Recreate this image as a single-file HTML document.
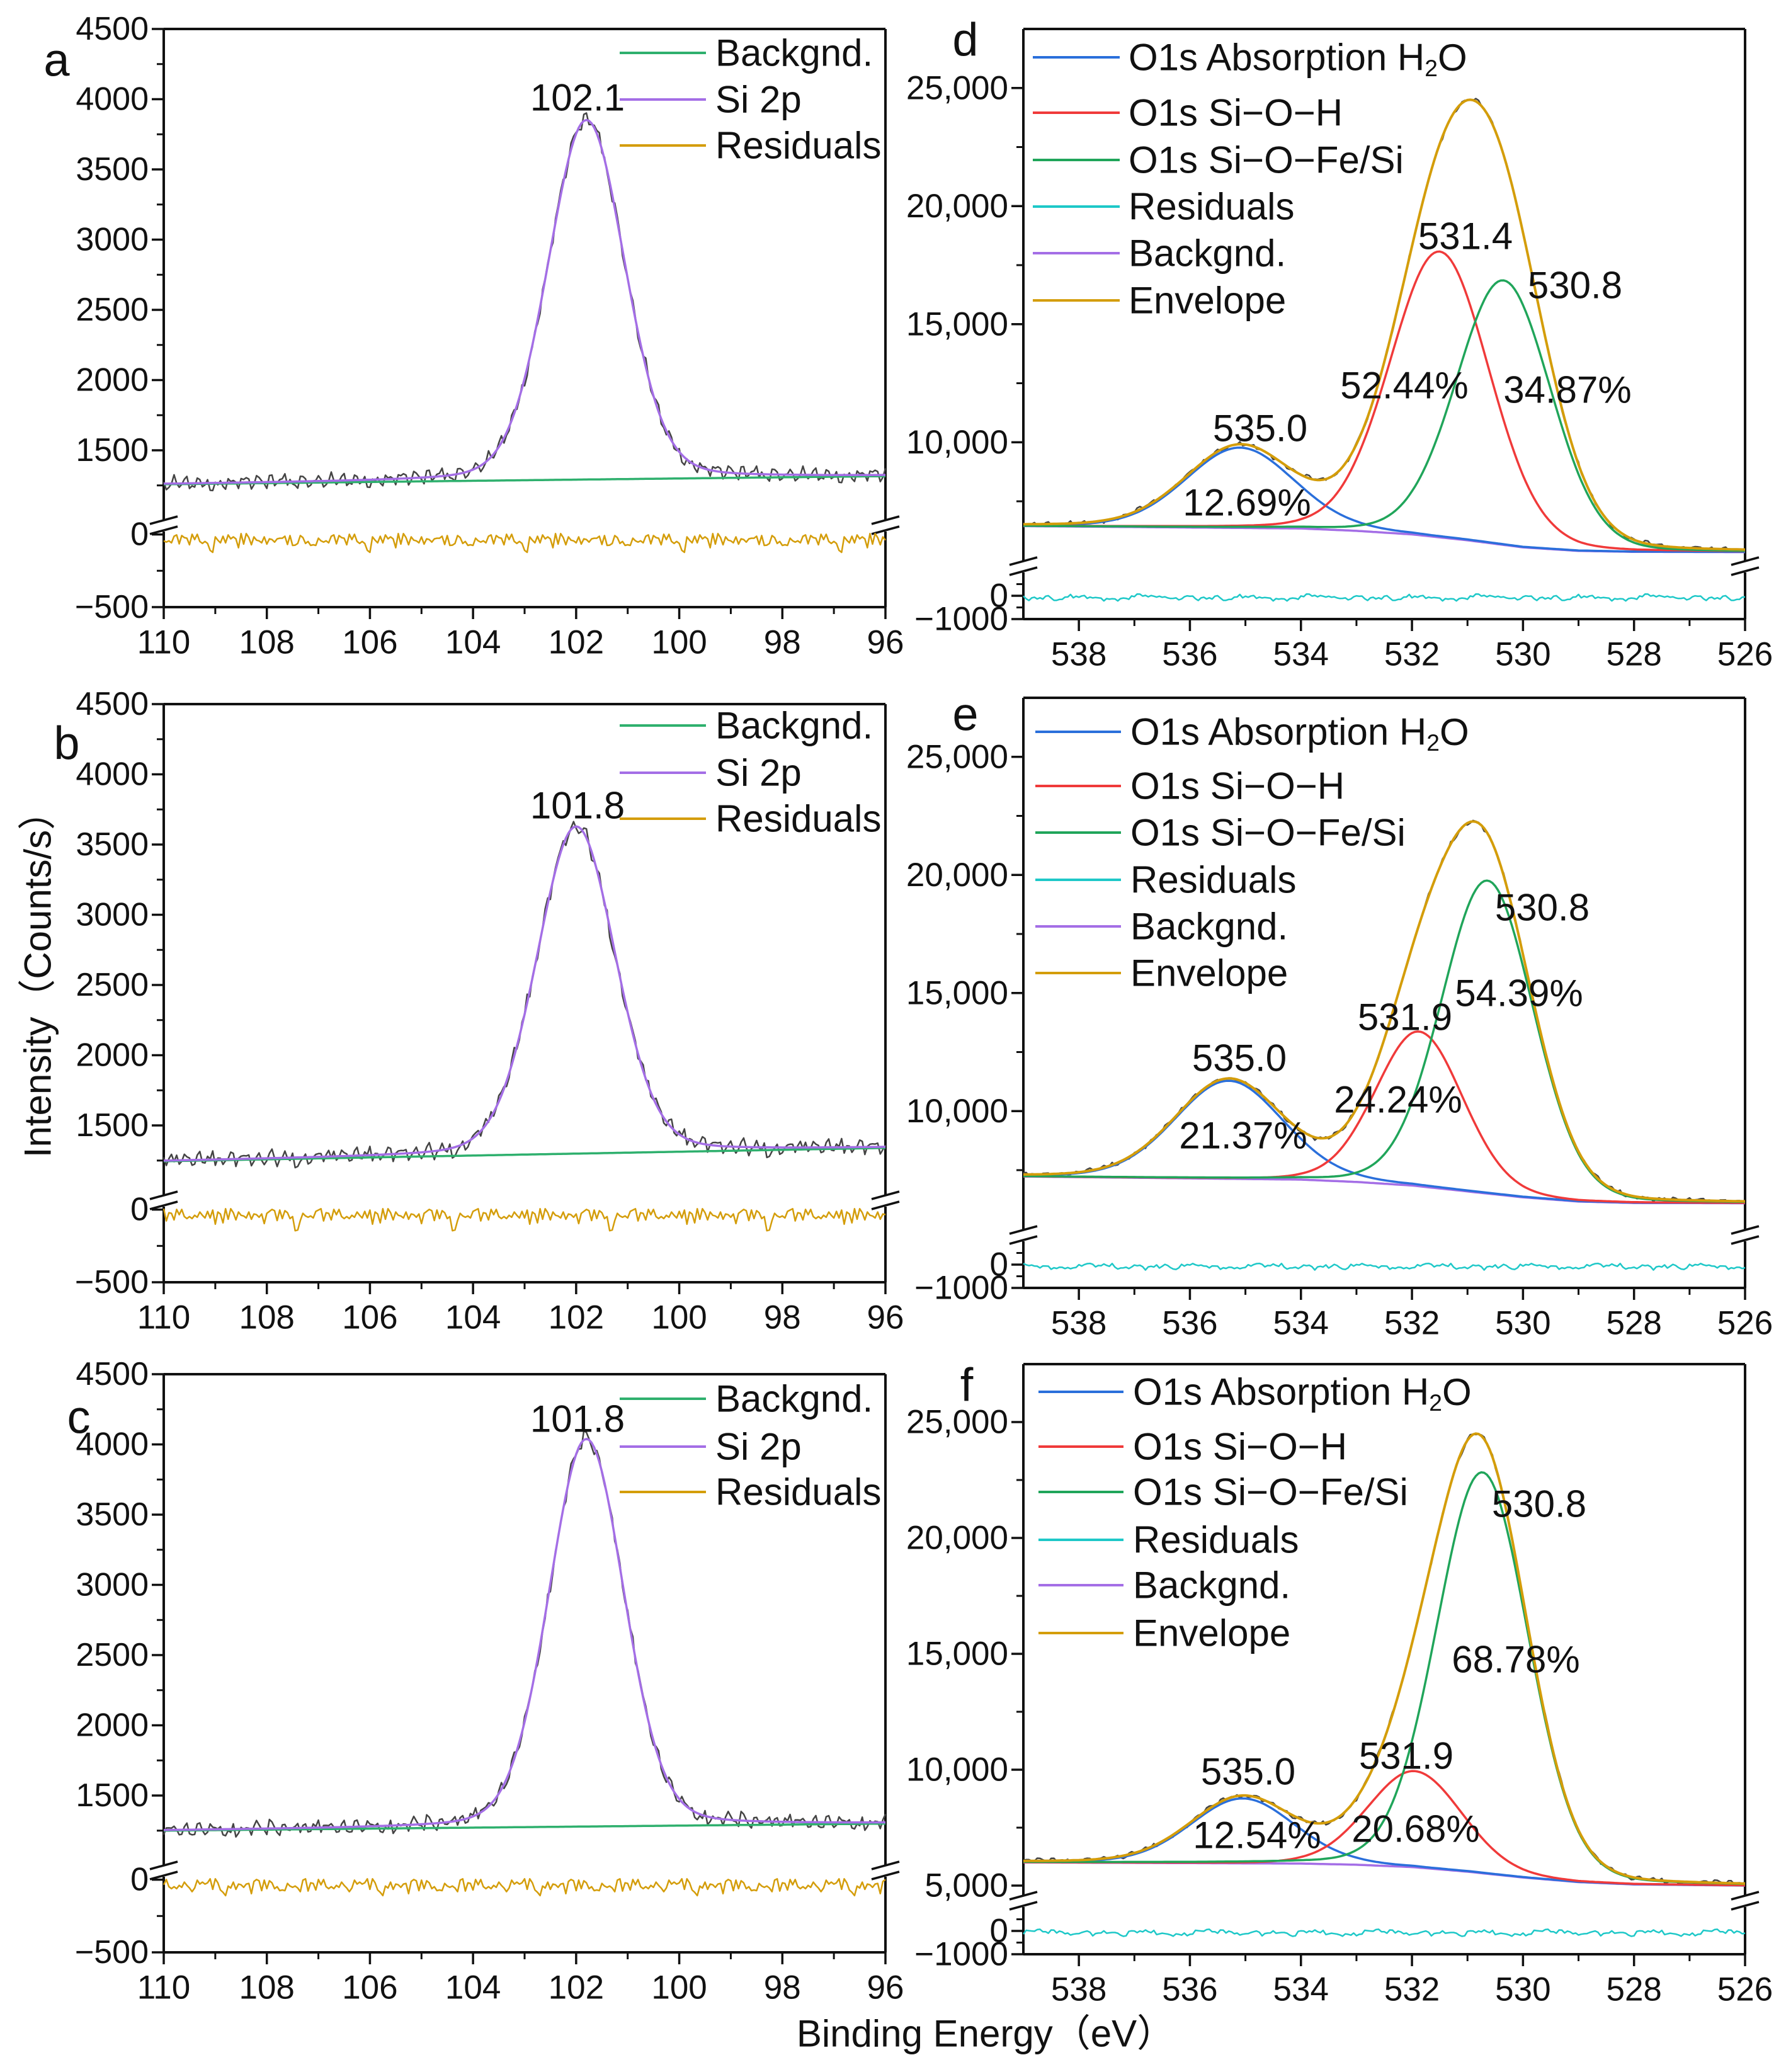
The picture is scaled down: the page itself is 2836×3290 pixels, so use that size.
<!DOCTYPE html>
<html><head><meta charset="utf-8"><style>
html,body{margin:0;padding:0;background:#fff;}
svg{display:block;font-family:"Liberation Sans","Noto Sans CJK SC",sans-serif;}
</style></head><body>
<svg id="fig" width="2836" height="3290" viewBox="0 0 2836 3290" xmlns="http://www.w3.org/2000/svg"></svg>
<script>
// ---------- DATA ----------
// typed noise offsets (unitless, reused for raw spectra and residuals)
const noise = [0.3,-0.5,0.8,-0.2,-0.9,0.4,0.1,-0.6,0.9,-0.3,0.2,-0.8,0.5,0.0,-0.4,0.7,-0.7,0.3,-0.1,0.6,-0.9,0.2,0.4,-0.5,0.8,-0.2,-0.6,0.1,0.9,-0.4,0.3,-0.8,0.5,-0.1,0.7,-0.3,-0.5,0.6,0.0,-0.7,0.4,0.2,-0.9,0.8,-0.2,0.1,-0.6,0.5,0.3,-0.4,0.9,-0.1,-0.8,0.2,0.6,-0.5,0.4,-0.3,0.7,-0.6,0.1];

// Si 2p panels (a,b,c)
const siBgE = [110, 96];
const siBgA = [1258, 1316];
const siBgB = [1245, 1340];
const siBgC = [1250, 1300];
const siCenter = [101.8, 102.0, 101.8];
const siHeight = [2560, 2330, 2760];
const siFwhm = [1.75, 1.8, 1.72];
const siMix = [0.15, 0.15, 0.15];
const siPeakLabels = ["102.1", "101.8", "101.8"];

// O 1s panels (d,e,f)
const oBgE = [539, 534, 533, 532, 531, 530, 529, 528, 526];
const oBgD = [6450, 6350, 6250, 6100, 5850, 5550, 5400, 5360, 5350];
const oBgEpanel = [7230, 7100, 7000, 6850, 6600, 6350, 6170, 6110, 6100];
const oBgF = [6000, 5950, 5900, 5800, 5600, 5350, 5150, 5050, 5000];
// components: [H2O, Si-O-H, Si-O-Fe/Si]
const oCenterD = [535.1, 531.5, 530.35];
const oHeightD = [3400, 12100, 11200];
const oFwhmD = [2.3, 2.1, 2.0];
const oCenterE = [535.3, 531.87, 530.64];
const oHeightE = [4150, 6550, 13250];
const oFwhmE = [2.3, 1.85, 1.95];
const oCenterF = [535.05, 531.95, 530.73];
const oHeightF = [2800, 4150, 17300];
const oFwhmF = [2.2, 2.0, 1.95];
const oMix = [0.15, 0.1, 0.1];

const siTicksMajor = [1500, 2000, 2500, 3000, 3500, 4000, 4500];
const siTicksLower = [0, -500];
const oTicksMajor = [10000, 15000, 20000, 25000];
const oTicksMajorF = [5000, 10000, 15000, 20000, 25000];
const oTicksLower = [0, -1000];
const siXTicks = [110, 108, 106, 104, 102, 100, 98, 96];
const oXTicks = [538, 536, 534, 532, 530, 528, 526];

// ---------- HELPERS ----------
const NS = "http://www.w3.org/2000/svg";
const svg = document.getElementById('fig');
function el(tag, attrs, parent) {
  const e = document.createElementNS(NS, tag);
  for (const k in attrs) e.setAttribute(k, attrs[k]);
  (parent || svg).appendChild(e);
  return e;
}
function interp(x, xs, ys) {
  for (let i = 0; i < xs.length - 1; i++) {
    const a = xs[i], b = xs[i + 1];
    if ((x <= a && x >= b) || (x >= a && x <= b)) {
      const t = (x - a) / (b - a);
      return ys[i] + t * (ys[i + 1] - ys[i]);
    }
  }
  return ys[ys.length - 1];
}
function gl(x, c, h, w, m) {
  const d = (x - c) / w;
  return h * ((1 - m) * Math.exp(-4 * Math.LN2 * d * d) + m / (1 + 4 * d * d));
}
function pathFrom(pts) {
  return pts.map((p, i) => (i ? 'L' : 'M') + p[0].toFixed(1) + ' ' + p[1].toFixed(1)).join(' ');
}
const FS = 52;

function panelAxes(P) {
  const g = el('g', {});
  
  
  const L = P.x0, R = P.x1;
  const st = {stroke: '#111', 'stroke-width': 4, fill: 'none'};
  el('line', Object.assign({x1: L, y1: P.top, x2: R, y2: P.top}, st), g);
  el('line', Object.assign({x1: L, y1: P.bottom, x2: R, y2: P.bottom}, st), g);
  [L, R].forEach(x => {
    el('line', Object.assign({x1: x, y1: P.top, x2: x, y2: P.brk - 8}, st), g);
    el('line', Object.assign({x1: x, y1: P.brk + 10, x2: x, y2: P.bottom}, st), g);
    el('line', {x1: x - 22, y1: P.brk - 2, x2: x + 22, y2: P.brk - 14, stroke: '#111', 'stroke-width': 3.5}, g);
    el('line', {x1: x - 22, y1: P.brk + 14, x2: x + 22, y2: P.brk + 2, stroke: '#111', 'stroke-width': 3.5}, g);
  });
  P.yMinor.forEach(v => el('line', {x1: L - 11, y1: P.yU(v), x2: L, y2: P.yU(v), stroke: '#111', 'stroke-width': 3}, g));
  P.yMajor.forEach(v => {
    el('line', {x1: L - 19, y1: P.yU(v), x2: L, y2: P.yU(v), stroke: '#111', 'stroke-width': 3.5}, g);
    const t = el('text', {x: L - 24, y: P.yU(v), 'font-size': P.tfs, 'text-anchor': 'end', 'dominant-baseline': 'central', fill: '#111'}, g);
    t.textContent = P.fmt(v);
  });
  P.yLowMinor.forEach(v => el('line', {x1: L - 11, y1: P.yL(v), x2: L, y2: P.yL(v), stroke: '#111', 'stroke-width': 3}, g));
  P.yLowMajor.forEach(v => {
    el('line', {x1: L - 19, y1: P.yL(v), x2: L, y2: P.yL(v), stroke: '#111', 'stroke-width': 3.5}, g);
    const t = el('text', {x: L - 24, y: P.yL(v), 'font-size': P.tfs, 'text-anchor': 'end', 'dominant-baseline': 'central', fill: '#111'}, g);
    t.textContent = v < 0 ? '\u2212' + Math.abs(v) : String(v);
  });
  P.xMinor.forEach(e => el('line', {x1: P.xs(e), y1: P.bottom, x2: P.xs(e), y2: P.bottom + 11, stroke: '#111', 'stroke-width': 3}, g));
  P.xMajor.forEach(e => {
    el('line', {x1: P.xs(e), y1: P.bottom, x2: P.xs(e), y2: P.bottom + 19, stroke: '#111', 'stroke-width': 3.5}, g);
    const t = el('text', {x: P.xs(e), y: P.bottom + 56, 'font-size': 53, 'text-anchor': 'middle', 'dominant-baseline': 'central', fill: '#111'}, g);
    t.textContent = String(e);
  });
  const lt = el('text', {x: P.letterX, y: P.letterY, 'font-size': 74, 'text-anchor': 'middle', 'dominant-baseline': 'central', fill: '#111'});
  lt.textContent = P.letter;
  
  
}
function legend(P, items, x1, x2, tx, ys, fs) {
  const g = el('g', {});
  
  
  items.forEach((it, i) => {
    const row = el('g', {}, g);
    
    
    el('line', {x1: x1, y1: ys[i], x2: x2, y2: ys[i], stroke: it.color, 'stroke-width': 4}, row);
    const t = el('text', {x: tx, y: ys[i], 'font-size': fs, 'dominant-baseline': 'central', fill: '#111'}, row);
    if (it.sub) {
      t.appendChild(document.createTextNode(it.label));
      const s = el('tspan', {'font-size': fs * 0.62, dy: 17}, t);
      s.textContent = '2';
      const s2 = el('tspan', {dy: -17}, t);
      s2.textContent = 'O';
    } else t.textContent = it.label;
  });
}
function annot(x, y, txt, name) {
  const t = el('text', {x: x, y: y, 'font-size': 60, 'text-anchor': 'middle', 'dominant-baseline': 'central', fill: '#111'});
  t.textContent = txt;
  
  
}
function curve(pts, color, w, name) {
  const p = el('path', {d: pathFrom(pts), stroke: color, 'stroke-width': w, fill: 'none', 'stroke-linejoin': 'round'});
  
  
}

// ---------- Si 2p PANELS ----------
const siTops = [46, 1118, 2182];
const siLetters = ['a', 'b', 'c'];
const siLetterPos = [[90, 95], [106, 1180], [125, 2250]];
const siBgs = [siBgA, siBgB, siBgC];
const siLegendRows = [[84, 158, 231], [1152, 1227, 1300], [2221, 2297, 2369]];
for (let k = 0; k < 3; k++) {
  const top = siTops[k];
  const P = {
    name: 'panel-' + siLetters[k], letter: siLetters[k], letterX: siLetterPos[k][0], letterY: siLetterPos[k][1],
    x0: 260, x1: 1406, top: top, bottom: top + 918, brk: top + 788,
    xs: e => 260 + (110 - e) * (1146 / 14),
    yU: v => top + (4500 - v) * 0.223,
    yL: v => top + 802.6 - v * 0.2308,
    yMajor: siTicksMajor, yMinor: [1250, 1750, 2250, 2750, 3250, 3750, 4250],
    yLowMajor: siTicksLower, yLowMinor: [-250],
    xMajor: siXTicks, xMinor: [109, 107, 105, 103, 101, 99, 97],
    fmt: v => String(v), tfs: FS
  };
  panelAxes(P);
  const raw = [], fit = [], bg = [], res = [];
  let i = 0;
  for (let e = 110; e >= 95.999; e -= 0.05, i++) {
    const b = interp(e, siBgE, siBgs[k]);
    const f = b + gl(e, siCenter[k], siHeight[k], siFwhm[k], siMix[k]);
    const n = noise[(i * 7 + k * 13) % noise.length];
    const n2 = noise[(i * 11 + k * 5 + 3) % noise.length];
    raw.push([P.xs(e), P.yU(f + 55 * n + 25 * n2)]);
    fit.push([P.xs(e), P.yU(f)]);
    bg.push([P.xs(e), P.yU(b)]);
    res.push([P.xs(e), P.yL(-35 + 45 * n2 - (n < -0.75 ? 70 : 0))]);
  }
  curve(raw, '#444', 2.5, 'raw-spectrum-' + siLetters[k]);
  curve(bg, '#2fb06e', 3.5, 'background-line-' + siLetters[k]);
  curve(fit, '#a46ee6', 3.5, 'si2p-fit-' + siLetters[k]);
  curve(res, '#d49d0a', 2.5, 'residuals-line-' + siLetters[k]);
  annot(917, top + 109 + (k === 1 ? 52 : 0) - (k === 2 ? 38 : 0), siPeakLabels[k], 'peak-label-' + siLetters[k]);
  legend(P, [
    {key: 'backgnd', label: 'Backgnd.', color: '#2fb06e'},
    {key: 'si2p', label: 'Si 2p', color: '#a46ee6'},
    {key: 'residuals', label: 'Residuals', color: '#d49d0a'}
  ], 984, 1121, 1136, siLegendRows[k], 60);
}

// ---------- O 1s PANELS ----------
const oTops = [46, 1108, 2166];
const oLetters = ['d', 'e', 'f'];
const oLetterPos = [[1533, 63], [1533, 1134], [1535, 2199]];
const oBgs = [oBgD, oBgEpanel, oBgF];
const oCenters = [oCenterD, oCenterE, oCenterF];
const oHeights = [oHeightD, oHeightE, oHeightF];
const oFwhms = [oFwhmD, oFwhmE, oFwhmF];
const oK = [0.0375, 0.0375, 0.0368];
const oLegendRows = [[91, 179, 254, 328, 402, 477], [1162, 1248, 1322, 1397, 1471, 1545], [2210, 2297, 2369, 2445, 2517, 2593]];
const oLabels = [
  [['535.0', 2001, 680], ['12.69%', 1980, 798], ['531.4', 2327, 375], ['52.44%', 2230, 612], ['530.8', 2501, 453], ['34.87%', 2489, 619]],
  [['535.0', 1968, 1680], ['21.37%', 1974, 1803], ['531.9', 2231, 1615], ['24.24%', 2220, 1746], ['530.8', 2449, 1441], ['54.39%', 2412, 1577]],
  [['535.0', 1982, 2813], ['12.54%', 1996, 2914], ['531.9', 2233, 2788], ['20.68%', 2248, 2904], ['530.8', 2444, 2388], ['68.78%', 2407, 2635]]
];
const compColors = ['#2a6fdb', '#f03a3a', '#20a55a'];
const compNames = ['h2o-component', 'si-o-h-component', 'si-o-fe-component'];
for (let k = 0; k < 3; k++) {
  const top = oTops[k], kk = oK[k];
  const bottom = top + 937;
  const P = {
    name: 'panel-' + oLetters[k], letter: oLetters[k], letterX: oLetterPos[k][0], letterY: oLetterPos[k][1],
    x0: 1625, x1: 2771, top: top, bottom: bottom, brk: k === 2 ? top + 852 : top + 853,
    xs: e => 1625 + (539 - e) * (1146 / 13),
    yU: v => top + (27500 - v) * kk,
    yL: v => bottom - 37 - v * 0.037,
    yMajor: k === 2 ? oTicksMajorF : oTicksMajor,
    yMinor: [7500, 12500, 17500, 22500],
    yLowMajor: oTicksLower, yLowMinor: [500, -500],
    xMajor: oXTicks, xMinor: [537, 535, 533, 531, 529, 527],
    fmt: v => v.toLocaleString('en-US'), tfs: 53
  };
  panelAxes(P);
  const raw = [], env = [], bg = [], res = [], comps = [[], [], []];
  let i = 0;
  for (let e = 539; e >= 525.999; e -= 0.05, i++) {
    const b = interp(e, oBgE, oBgs[k]);
    let tot = b;
    for (let c = 0; c < 3; c++) {
      const v = gl(e, oCenters[k][c], oHeights[k][c], oFwhms[k][c], oMix[c]);
      tot += v;
      comps[c].push([P.xs(e), P.yU(b + v)]);
    }
    const n = noise[(i * 7 + k * 17) % noise.length];
    const n2 = noise[(i * 13 + k * 3 + 5) % noise.length];
    raw.push([P.xs(e), P.yU(tot + 90 * n + 50 * n2)]);
    env.push([P.xs(e), P.yU(tot)]);
    bg.push([P.xs(e), P.yU(b)]);
    res.push([P.xs(e), P.yL(-80 + 120 * n2 + 60 * n)]);
  }
  curve(raw, '#444', 2.5, 'raw-spectrum-' + oLetters[k]);
  curve(bg, '#a46ee6', 3.5, 'background-line-' + oLetters[k]);
  for (let c = 0; c < 3; c++) curve(comps[c], compColors[c], 3.5, compNames[c] + '-' + oLetters[k]);
  curve(env, '#d49d0a', 4, 'envelope-line-' + oLetters[k]);
  curve(res, '#1ec8c8', 2.5, 'residuals-line-' + oLetters[k]);
  oLabels[k].forEach((L, j) => annot(L[1], L[2], L[0], 'annotation-' + oLetters[k] + '-' + j));
  const lx = k === 2 ? [1649, 1784, 1799] : (k === 1 ? [1644, 1780, 1795] : [1640, 1778, 1792]);
  legend(P, [
    {key: 'h2o', label: 'O1s Absorption H', sub: true, color: '#2a6fdb'},
    {key: 'si-o-h', label: 'O1s Si\u2212O\u2212H', color: '#f03a3a'},
    {key: 'si-o-fe', label: 'O1s Si\u2212O\u2212Fe/Si', color: '#20a55a'},
    {key: 'residuals', label: 'Residuals', color: '#1ec8c8'},
    {key: 'backgnd', label: 'Backgnd.', color: '#a46ee6'},
    {key: 'envelope', label: 'Envelope', color: '#d49d0a'}
  ], lx[0], lx[1], lx[2], oLegendRows[k], 60);
}

// ---------- AXIS TITLES ----------
const yt = el('text', {x: 60, y: 1548, 'font-size': 60, 'text-anchor': 'middle', 'dominant-baseline': 'central', fill: '#111', transform: 'rotate(-90 60 1548)'});
yt.textContent = 'Intensity（Counts/s）';


const xt = el('text', {x: 1565, y: 3229, 'font-size': 60, 'text-anchor': 'middle', 'dominant-baseline': 'central', fill: '#111'});
xt.textContent = 'Binding Energy（eV）';


</script>
</body></html>
